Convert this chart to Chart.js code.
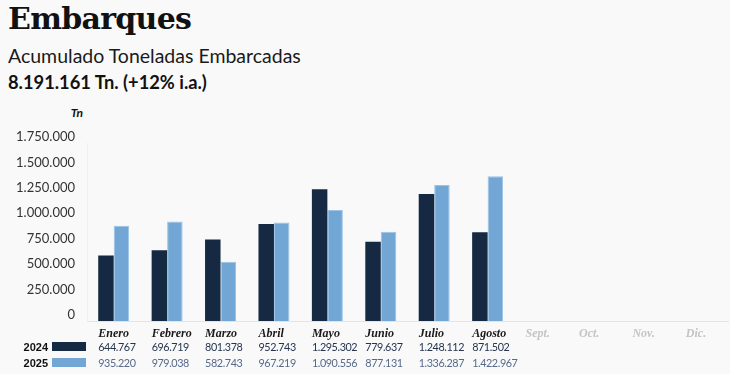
<!DOCTYPE html>
<html>
<head>
<meta charset="utf-8">
<script src="https://cdn.jsdelivr.net/npm/chart.js@4/dist/chart.umd.min.js"></script>
<style>
  html, body { margin: 0; padding: 0; background: #f9f9f9; }
  #wrap { position: relative; width: 730px; height: 374px; overflow: hidden; }
  .t { position: absolute; left: 8px; white-space: nowrap; color: #111; }
  #title { top: 4px; font: bold 30px/30px "DejaVu Serif", serif; letter-spacing: -0.7px; }
  #sub { top: 46px; font: 19.5px/19.5px Lato, sans-serif; color: #1a1a1a; }
  #total { top: 73px; font: bold 18.3px/18.3px Lato, sans-serif; }
  #unit { position: absolute; top: 107px; left: 60px; width: 23px; text-align: right; font: italic bold 12px/12px Lato, sans-serif; color: #111; }
  canvas { position: absolute; left: 0; top: 0; }
</style>
</head>
<body>
<div id="wrap">
  <div class="t" id="title">Embarques</div>
  <div class="t" id="sub">Acumulado Toneladas Embarcadas</div>
  <div class="t" id="total">8.191.161 Tn. (+12% i.a.)</div>
  <div id="unit">Tn</div>
  <canvas id="c" width="730" height="374"></canvas>
</div>
<script>
const months = ["Enero", "Febrero", "Marzo", "Abril", "Mayo", "Junio", "Julio", "Agosto", "Sept.", "Oct.", "Nov.", "Dic."];
const seriesNames = ["2024", "2025"];
const values2024 = [644767, 696719, 801378, 952743, 1295302, 779637, 1248112, 871502, null, null, null, null];
const values2025 = [935220, 979038, 582743, 967219, 1090556, 877131, 1336287, 1422967, null, null, null, null];
const yTicks = [0, 250000, 500000, 750000, 1000000, 1250000, 1500000, 1750000];

const COLOR_2024 = "#152a42";
const COLOR_2025 = "#72a7d5";
const CAT_PCT = 0.58;

function fmt(n) {
  return String(Math.round(n)).replace(/\B(?=(\d{3})+(?!\d))/g, ".");
}

const tablePlugin = {
  id: "tablePlugin",
  afterDraw(chart) {
    const ctx = chart.ctx;
    const x = chart.scales.x;
    const cw = x.width / months.length;
    const half = cw * CAT_PCT / 2;
    ctx.save();
    ctx.textAlign = "left";
    ctx.textBaseline = "alphabetic";
    months.forEach((m, i) => {
      const left = x.getPixelForValue(i) - half;
      const future = values2024[i] == null && values2025[i] == null;
      ctx.letterSpacing = "0px";
      ctx.font = 'italic bold 12px "Liberation Serif", serif';
      ctx.fillStyle = future ? "#c4c4c4" : "#1a1a1a";
      ctx.fillText(m, left, 337);
      ctx.font = "10.8px Lato, sans-serif";
      ctx.letterSpacing = "-0.4px";
      if (values2024[i] != null) {
        ctx.fillStyle = "#25354f";
        ctx.fillText(fmt(values2024[i]), left, 351);
      }
      if (values2025[i] != null) {
        ctx.fillStyle = "#56698a";
        ctx.fillText(fmt(values2025[i]), left, 366.5);
      }
    });
    ctx.letterSpacing = "0px";
    // row labels and swatches
    ctx.font = 'bold 11px "Liberation Sans Narrow", "Liberation Sans", sans-serif';
    ctx.textAlign = "right";
    ctx.fillStyle = "#111";
    ctx.fillText(seriesNames[0], 48, 350.5);
    ctx.fillText(seriesNames[1], 48, 366.5);
    ctx.fillStyle = COLOR_2024;
    ctx.fillRect(52, 342, 34, 9);
    ctx.fillStyle = COLOR_2025;
    ctx.fillRect(52, 358, 34, 9);
    ctx.restore();
  }
};

new Chart(document.getElementById("c"), {
  type: "bar",
  data: {
    labels: months,
    datasets: [
      { label: seriesNames[0], data: values2024, backgroundColor: COLOR_2024, borderWidth: 0 },
      { label: seriesNames[1], data: values2025, backgroundColor: COLOR_2025, borderColor: "#9cc2e4", borderWidth: 1 }
    ]
  },
  options: {
    responsive: false,
    animation: false,
    devicePixelRatio: 1,
    layout: { padding: { top: 143, right: 2, bottom: 53, left: 0 } },
    datasets: { bar: { barPercentage: 1, categoryPercentage: CAT_PCT } },
    plugins: { legend: { display: false }, tooltip: { enabled: false }, title: { display: false } },
    scales: {
      x: {
        ticks: { display: false },
        grid: { display: false, drawTicks: false },
        border: { display: true, color: "#e4e4e4", width: 1 }
      },
      y: {
        min: 0,
        max: 1750000,
        afterBuildTicks(scale) { scale.ticks = yTicks.map(v => ({ value: v })); },
        afterFit(scale) { scale.width = 87; },
        ticks: {
          padding: 12,
          labelOffset: -6,
          color: "#333",
          font: { family: "Lato, sans-serif", size: 13 },
          callback: v => fmt(v)
        },
        grid: { display: false, drawTicks: false },
        border: { display: true, color: "#efefef", width: 1 }
      }
    }
  },
  plugins: [tablePlugin]
});
</script>
</body>
</html>
